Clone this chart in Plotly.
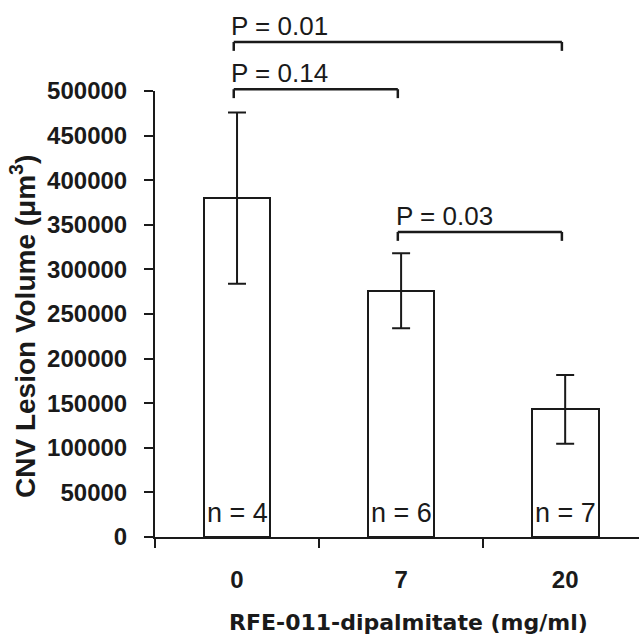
import plotly.graph_objects as go

# ---- data ----
doses = ["0", "7", "20"]
lesion_volume = [380000, 276000, 143000]
lesion_sem = [96000, 42000, 38500]
n_labels = ["n = 4", "n = 6", "n = 7"]
# comparisons: (left group index, right group index, label)
comp_left = [0, 0, 1]
comp_right = [2, 1, 2]
comp_labels = ["P = 0.01", "P = 0.14", "P = 0.03"]
comp_height = [555000, 502000, 342000]   # bracket level in data units

Y_MAX = 500000
BRACKET_DROP = 10000
INK = "#1a1a1a"
SANS = "Liberation Sans, Arial, sans-serif"

fig = go.Figure()
fig.add_trace(go.Bar(
    x=doses, y=lesion_volume,
    width=0.407,
    marker=dict(color="white", line=dict(color=INK, width=2)),
    error_y=dict(type="data", array=lesion_sem, visible=True,
                 color=INK, thickness=2, width=9),
    showlegend=False,
))

shapes = []
annotations = []
off = -0.02
for l, r, lab, h in zip(comp_left, comp_right, comp_labels, comp_height):
    yp = h / Y_MAX
    yd = (h - BRACKET_DROP) / Y_MAX
    xl, xr = l + off, r + off
    for x0, y0, x1, y1 in [(xl, yp, xr, yp), (xl, yp, xl, yd), (xr, yp, xr, yd)]:
        shapes.append(dict(type="line", xref="x", yref="paper",
                           x0=x0, y0=y0, x1=x1, y1=y1,
                           line=dict(color=INK, width=2.5)))
    annotations.append(dict(text=lab, xref="x", yref="paper", x=xl - 0.02, y=yp,
                            xanchor="left", yanchor="bottom", showarrow=False,
                            borderpad=0,
                            font=dict(family=SANS, size=26, color=INK)))

for i, lab in enumerate(n_labels):
    annotations.append(dict(text=lab, xref="x", yref="y", x=i, y=9000,
                            xanchor="center", yanchor="bottom", showarrow=False,
                            borderpad=0,
                            font=dict(family=SANS, size=27, color=INK)))

# axis titles
annotations.append(dict(text="CNV Lesion Volume (\u03bcm<sup>3</sup>)", xref="paper", yref="paper",
                        x=(23 - 155) / 484, y=(537 - 327) / 446, textangle=-90,
                        xanchor="center", yanchor="middle", showarrow=False,
                        font=dict(family=SANS, size=28, color=INK, weight="bold")))
annotations.append(dict(text="RFE-011-dipalmitate (mg/ml)", xref="paper", yref="paper",
                        x=(408 - 155) / 484, y=(537 - 622) / 446,
                        xanchor="center", yanchor="middle", showarrow=False,
                        font=dict(family="DejaVu Sans", size=22, color=INK, weight="bold")))

fig.update_layout(
    width=639, height=636,
    margin=dict(l=155, r=0, t=91, b=99, autoexpand=False),
    paper_bgcolor="white", plot_bgcolor="white",
    shapes=shapes, annotations=annotations,
    bargap=0,
)
fig.update_xaxes(
    type="category", range=[-0.5, 2.45],
    showline=True, linecolor=INK, linewidth=2,
    ticks="outside", tickson="boundaries", ticklen=9, tickwidth=2, tickcolor=INK,
    tickfont=dict(family=SANS, size=24, color=INK, weight="bold"),
    ticklabelstandoff=20,
    showgrid=False, zeroline=False,
)
fig.update_yaxes(
    range=[0, Y_MAX], dtick=50000, tickformat="d",
    showline=True, linecolor=INK, linewidth=2,
    ticks="outside", ticklen=9, tickwidth=2, tickcolor=INK,
    tickfont=dict(family=SANS, size=24, color=INK, weight="bold"),
    ticklabelstandoff=12,
    showgrid=False, zeroline=False,
)

fig.write_html("out.html")
